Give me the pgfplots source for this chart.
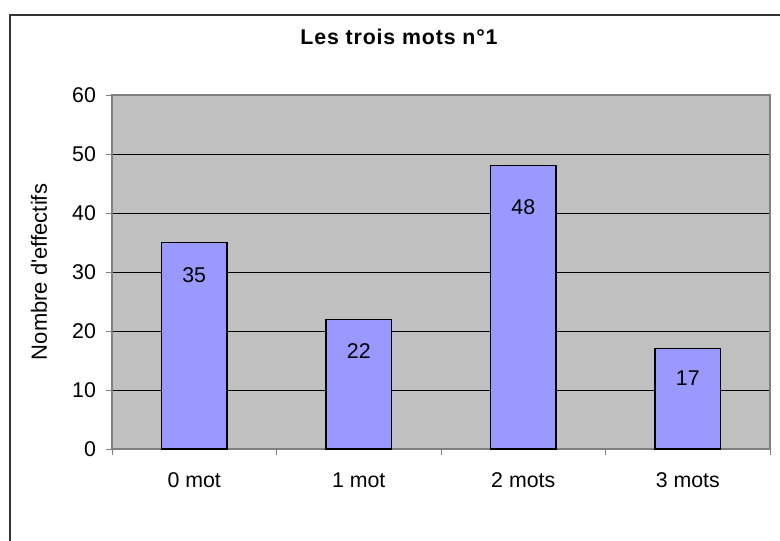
\documentclass[border=0pt]{standalone}
\usepackage{pgfplots}
\pgfplotsset{compat=1.18}
\usepackage{fontspec}
\setmainfont{Liberation Sans}
\definecolor{plotgray}{HTML}{C0C0C0}
\definecolor{barblue}{HTML}{9999FF}
\definecolor{framegray}{HTML}{808080}
\begin{document}
\begin{tikzpicture}
\path[use as bounding box] (0,0) rectangle (585pt,405pt);
\draw[line width=1pt, black!80] (7.5pt,-5pt) -- (7.5pt,393.75pt) -- (595pt,393.75pt);
\begin{axis}[
 at={(84pt,68.25pt)}, anchor=south west, scale only axis,
 width=493.5pt, height=265.5pt,
 xmin=-0.5, xmax=3.5, ymin=0, ymax=60, ytick={0,10,...,60},
 xtick={-0.5,0.5,1.5,2.5,3.5}, xticklabels={},
 extra x ticks={0,1,2,3}, extra x tick labels={0 mot,1 mot,2 mots,3 mots},
 extra x tick style={major tick length=0pt, grid=none, tick label style={yshift=-14pt, text depth=0pt}},
 tick align=outside, tick pos=left, major tick length=4.5pt,
 ymajorgrids, grid style={black, line width=0.6pt},
 axis line style={framegray, line width=0.9pt},
 tick style={framegray, line width=0.75pt},
 axis background/.style={fill=plotgray},
 font=\fontsize{16}{19}\selectfont,
 yticklabel style={xshift=-4pt},
 /pgf/number format/assume math mode=true,
 ylabel={Nombre d\textquotesingle effectifs},
 ylabel style={at={(axis description cs:0,0.5)}, anchor=center, yshift=54.75pt, font=\fontsize{16.5}{19}\selectfont},
 title={Les trois mots n°1},
 title style={at={(axis description cs:0.5,1)}, anchor=center, xshift=-31.5pt, yshift=37.5pt, font=\fontsize{16}{19}\selectfont\bfseries\addfontfeatures{LetterSpace=4}},
 clip=false,
]
\addplot[ybar, bar width=0.4, fill=barblue, draw=black, line width=1pt] coordinates {(0,35) (1,22) (2,48) (3,17)};
\addplot[only marks, mark=none, nodes near coords, point meta=explicit symbolic,
 nodes near coords style={anchor=center, font=\fontsize{16}{19}\selectfont}]
 table[meta=label] {
x y label
0 29.5 35
1 16.6 22
2 41.0 48
3 12.0 17
};
\end{axis}
\end{tikzpicture}
\end{document}
